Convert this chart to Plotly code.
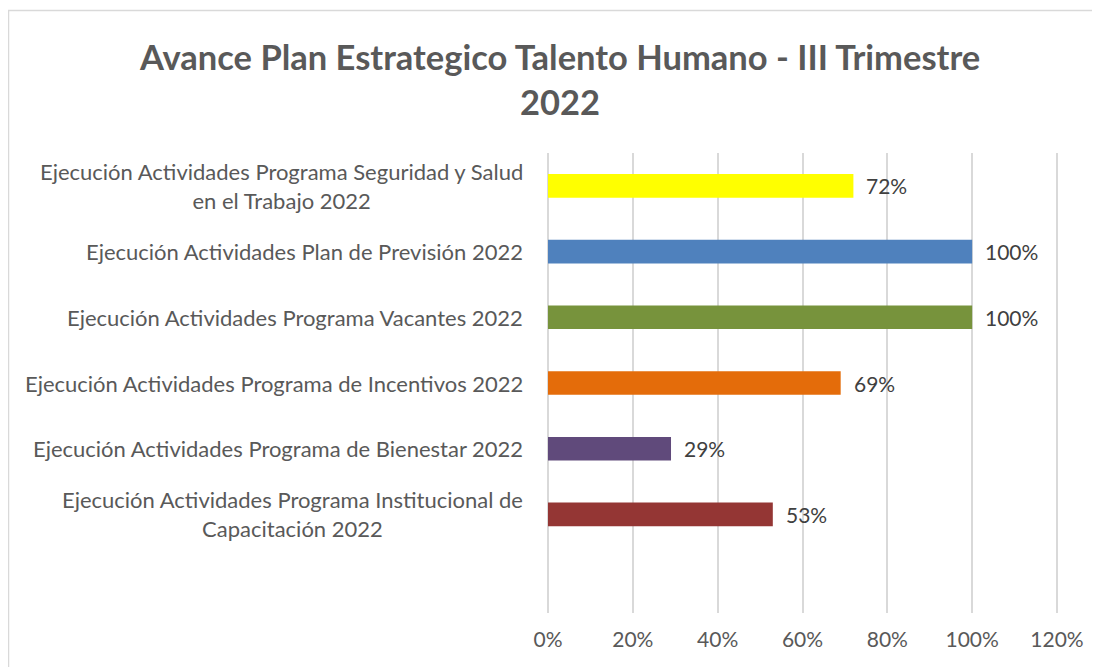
import plotly.graph_objects as go

# Datos (de abajo hacia arriba, como en el gráfico de Excel)
categorias = [
    "Ejecución Actividades Programa Institucional de<br>Capacitación 2022",
    "Ejecución Actividades Programa de Bienestar 2022",
    "Ejecución Actividades Programa de Incentivos 2022",
    "Ejecución Actividades Programa Vacantes 2022",
    "Ejecución Actividades Plan de Previsión 2022",
    "Ejecución Actividades Programa Seguridad y Salud<br>en el Trabajo 2022",
]
avance = [0.53, 0.29, 0.69, 1.00, 1.00, 0.72]
colores = ["#943634", "#604A7B", "#E46C0A", "#77933C", "#4F81BD", "#FFFF00"]
ticks_x = [0, 0.2, 0.4, 0.6, 0.8, 1.0, 1.2]
ticks_x_texto = ["0%", "20%", "40%", "60%", "80%", "100%", "120%"]
titulo = "Avance Plan Estrategico Talento Humano - III Trimestre<br>2022"

FUENTE = "Lato, Calibri, Carlito, sans-serif"
GRIS = "#595959"
GRILLA = "#D9D9D9"

# Geometría del área de trazado (px dentro de la figura; la página añade 8px de margen)
# se deja un pequeño margen a la derecha para que se vea la línea del 120%
L, R, T, B = 540, 1051, 145, 605
W, H = R - L, B - T
X_MAX = 1.2 * W / 509

fig = go.Figure()

fig.add_trace(
    go.Bar(
        x=avance,
        y=categorias,
        orientation="h",
        marker=dict(color=colores, line=dict(width=0)),
        width=0.36,
        hoverinfo="x+y",
    )
)

# Etiquetas de datos
for cat, val in zip(categorias, avance):
    fig.add_annotation(
        x=val, y=cat, xref="x", yref="y",
        text=f"{val:.0%}",
        showarrow=False,
        xanchor="left",
        xshift=11,
        font=dict(family=FUENTE, size=21, color="#404040"),
    )

# Etiquetas de categorías (centradas como en Excel)
for cat in categorias:
    fig.add_annotation(
        x=0, y=cat, xref="paper", yref="y",
        text=cat,
        showarrow=False,
        xanchor="right",
        align="center",
        xshift=-23,
        font=dict(family=FUENTE, size=22, color=GRIS),
    )

# Título
fig.add_annotation(
    x=(551 - L) / W, y=(B - 71) / H, xref="paper", yref="paper",
    text=titulo,
    showarrow=False,
    xanchor="center", yanchor="middle",
    align="center",
    font=dict(family=FUENTE, size=34.5, color=GRIS, weight="bold"),
)

# Borde del área del gráfico
fig.add_shape(
    type="rect", xref="paper", yref="paper",
    x0=(0.5 - L) / W, x1=(1115 - L) / W,
    y0=(B - 690) / H, y1=(B - 2.5) / H,
    line=dict(color=GRILLA, width=1.5),
    fillcolor="rgba(0,0,0,0)",
    layer="below",
)

fig.update_layout(
    width=1100,
    height=667,
    margin=dict(l=L, r=1100 - R, t=T, b=667 - B, autoexpand=False),
    plot_bgcolor="white",
    paper_bgcolor="white",
    showlegend=False,
)

fig.update_xaxes(
    range=[0, X_MAX],
    tickvals=ticks_x,
    ticktext=ticks_x_texto,
    showgrid=True,
    gridcolor=GRILLA,
    gridwidth=1.5,
    zeroline=True,
    zerolinecolor=GRILLA,
    zerolinewidth=1.5,
    showline=False,
    ticks="",
    automargin=False,
    tickfont=dict(family=FUENTE, size=21, color=GRIS),
    ticklabelstandoff=12,
)

fig.update_yaxes(
    type="category",
    categoryorder="array",
    categoryarray=categorias,
    range=[-1.5, 5.5],
    showticklabels=False,
    showgrid=False,
    zeroline=False,
    showline=False,
    ticks="",
    automargin=False,
)

fig.write_html("out.html")
